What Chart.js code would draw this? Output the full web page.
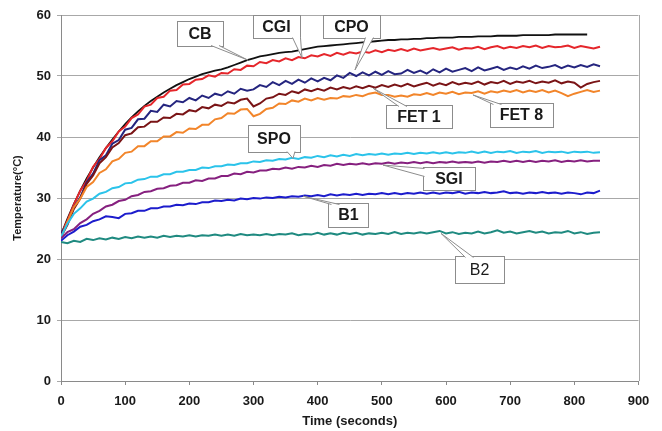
<!DOCTYPE html>
<html>
<head>
<meta charset="utf-8">
<script src="https://cdn.jsdelivr.net/npm/chart.js@4.4.1/dist/chart.umd.min.js"></script>
<style>
  html, body { margin: 0; padding: 0; background: #fff; }
  #wrap { width: 662px; height: 431px; position: relative; }
</style>
</head>
<body>
<div id="wrap"><canvas id="chart" width="662" height="431"></canvas></div>
<script>
// ---- data (time in seconds, temperature in °C) ----
const times = [0,10,20,30,40,50,60,70,80,90,100,110,120,130,140,150,160,170,180,190,200,
  210,220,230,240,250,260,270,280,290,300,310,320,330,340,350,360,370,380,390,400,
  410,420,430,440,450,460,470,480,490,500,510,520,530,540,550,560,570,580,590,600,
  610,620,630,640,650,660,670,680,690,700,710,720,730,740,750,760,770,780,790,800,
  810,820,830,840];

const cb = [24.0,26.6,29.0,31.2,33.2,35.0,36.7,38.2,39.6,40.9,42.1,43.2,44.2,45.1,45.9,46.6,47.3,47.9,48.5,49.0,49.5,
  49.9,50.3,50.6,50.9,51.1,51.4,51.8,52.2,52.6,52.9,53.2,53.4,53.6,53.8,53.9,54.0,54.2,54.4,54.6,54.8,
  54.9,55.0,55.1,55.2,55.3,55.4,55.5,55.6,55.7,55.8,55.9,55.9,56.0,56.0,56.1,56.1,56.2,56.2,56.3,56.3,
  56.3,56.4,56.4,56.4,56.5,56.5,56.5,56.6,56.6,56.6,56.6,56.7,56.7,56.7,56.7,56.7,56.8,56.8,56.8,56.8,
  56.8,56.8];

const cgi = [24.0,26.3,28.9,31.2,32.8,35.1,36.4,38.2,39.3,40.9,41.7,43.1,43.7,45.0,45.3,46.4,46.6,47.6,47.7,48.6,48.7,
  49.4,49.5,50.1,49.9,50.5,50.4,51.1,51.0,51.7,51.6,52.3,52.1,52.6,52.4,52.9,52.6,53.1,52.9,53.4,53.2,
  53.6,53.3,53.8,53.5,53.9,53.7,54.0,53.8,54.2,53.9,54.3,54.1,54.4,54.1,54.5,54.2,54.4,54.6,54.3,54.5,
  54.7,54.3,54.6,54.5,54.8,54.4,54.7,54.9,54.5,54.8,54.6,54.9,54.7,55.0,54.6,54.9,54.7,54.8,55.0,54.6,
  54.9,54.7,54.5,54.8];

const cpo = [24.2,25.8,28.5,30.1,32.6,34.0,36.2,37.0,38.9,39.5,41.2,41.5,42.9,43.0,44.3,44.1,45.3,45.0,45.9,45.7,46.4,
  46.0,46.8,46.4,47.1,46.8,47.5,47.1,47.9,47.6,47.8,48.5,48.2,49.0,48.5,49.2,48.7,49.4,48.9,49.6,49.1,
  49.7,49.3,50.1,49.7,50.5,50.0,50.6,50.1,50.7,50.2,50.8,50.3,50.4,51.0,50.5,50.9,50.4,51.1,50.6,51.2,
  50.7,51.0,51.3,50.8,51.4,50.9,51.2,51.5,51.0,51.4,51.1,51.6,51.2,51.7,51.3,51.5,51.8,51.3,51.7,51.4,
  51.8,51.5,51.9,51.6];

const fet1 = [23.6,25.6,28.2,29.9,32.3,33.7,35.7,36.7,38.3,39.0,40.3,40.6,41.6,41.7,42.5,42.5,43.2,43.1,43.8,43.7,44.4,
  44.2,44.9,44.7,45.3,45.1,45.7,45.5,46.1,46.3,45.0,45.5,46.3,46.5,47.1,46.9,47.5,47.2,47.8,47.5,47.9,
  47.6,48.1,47.8,48.2,47.9,48.3,48.0,48.4,48.1,48.5,48.2,48.6,48.3,48.7,48.3,48.6,48.9,48.4,48.8,48.5,
  49.0,48.6,48.9,48.7,49.1,48.6,49.0,48.8,49.2,48.7,49.1,48.9,49.2,48.8,49.1,48.9,49.3,48.8,49.1,48.9,
  48.1,48.7,49.0,49.2];

const fet8 = [23.5,26.1,28.5,29.9,31.8,32.6,34.1,34.7,36.0,36.4,37.4,37.6,38.5,38.5,39.3,39.3,40.1,40.1,40.8,40.7,41.4,
  41.3,42.0,42.0,42.9,43.1,43.9,43.8,44.5,44.6,43.4,43.8,44.6,44.8,45.5,45.4,46.0,45.8,46.3,46.0,46.4,
  46.1,46.4,46.3,46.7,46.6,46.9,46.7,47.1,47.3,46.9,46.9,46.6,46.8,46.6,47.0,46.9,47.2,46.9,47.3,47.1,
  47.4,47.0,47.3,47.2,47.5,47.1,47.5,47.3,47.6,47.4,47.7,47.3,47.6,47.4,47.7,47.3,47.6,47.2,46.7,47.1,
  47.4,47.7,47.4,47.6];

const spo = [23.6,25.8,27.4,28.3,29.4,29.9,30.7,31.0,31.6,31.8,32.4,32.5,33.0,33.1,33.5,33.5,33.9,33.9,34.3,34.3,34.6,
  34.6,35.0,34.9,35.2,35.2,35.5,35.4,35.7,35.7,36.0,35.9,36.2,36.1,36.4,36.3,36.6,36.4,36.7,36.6,36.9,
  36.7,37.0,36.8,37.1,36.9,37.2,37.0,37.2,37.1,37.3,37.1,37.3,37.2,37.4,37.2,37.4,37.3,37.5,37.3,37.5,
  37.3,37.5,37.4,37.6,37.4,37.6,37.4,37.6,37.5,37.7,37.4,37.6,37.5,37.7,37.4,37.6,37.5,37.6,37.4,37.6,
  37.5,37.6,37.4,37.5];

const sgi = [23.4,24.4,24.9,25.9,26.5,27.4,27.9,28.6,28.9,29.5,29.7,30.3,30.5,31.0,31.1,31.5,31.6,32.0,32.1,32.5,32.5,
  32.9,32.8,33.2,33.2,33.6,33.6,34.0,33.9,34.3,34.2,34.5,34.5,34.8,34.7,35.0,34.8,35.1,35.0,35.3,35.1,
  35.4,35.3,35.6,35.4,35.6,35.5,35.7,35.5,35.7,35.6,35.8,35.6,35.8,35.7,35.9,35.7,35.9,35.7,35.9,35.8,
  36.0,35.8,35.9,35.8,36.0,35.8,36.0,35.9,36.1,35.9,36.1,35.9,36.1,35.9,36.1,36.0,36.2,35.9,36.1,36.0,
  36.2,36.0,36.1,36.1];

const b1 = [23.0,23.9,24.5,25.3,25.6,26.2,26.5,27.0,26.9,26.7,27.4,27.5,27.9,27.9,28.3,28.3,28.6,28.6,28.9,28.8,29.1,
  29.0,29.3,29.3,29.6,29.5,29.7,29.6,29.9,29.8,30.0,29.9,30.1,30.0,30.2,30.1,30.3,30.2,30.4,30.3,30.5,
  30.3,30.6,30.4,30.6,30.5,30.7,30.5,30.7,30.6,30.8,30.6,30.8,30.6,30.8,30.7,30.9,30.7,30.9,30.7,30.9,
  30.8,31.0,30.7,30.9,30.8,31.0,30.8,30.9,31.1,30.8,30.9,30.7,30.9,30.8,31.0,30.8,30.9,30.7,30.9,30.8,
  30.6,30.9,30.8,31.2];

const b2 = [22.8,22.6,23.0,22.8,23.3,23.1,23.4,23.2,23.5,23.3,23.6,23.4,23.7,23.5,23.7,23.5,23.8,23.6,23.8,23.7,23.9,
  23.7,23.9,23.8,24.0,23.8,24.0,23.8,24.1,23.9,24.0,23.9,24.1,23.9,24.1,24.0,24.2,23.9,24.1,24.0,24.3,
  24.0,24.2,24.0,24.3,24.1,24.3,24.0,24.2,24.1,24.3,24.1,24.4,24.1,24.3,24.2,24.4,24.2,24.4,24.6,24.2,
  24.4,24.1,24.3,24.2,24.5,24.2,24.4,24.7,24.3,24.5,24.2,24.4,24.6,24.3,24.5,24.2,24.4,24.3,24.6,24.2,
  24.4,24.1,24.3,24.4];

const xTicks = [0,100,200,300,400,500,600,700,800,900];
const yTicks = [0,10,20,30,40,50,60];

// callout boxes: centre and tip in data units, box size in px, tail base on an edge
const callouts = [
  { text: 'CB',    cx: 216.6, cy: 56.9, tx: 291.4, ty: 52.6, w: 46, h: 25, edge: 'bottom', off: 15 },
  { text: 'CGI',   cx: 335.8, cy: 58.1, tx: 375.6, ty: 53.0, w: 47, h: 23, edge: 'bottom', off: 20 },
  { text: 'CPO',   cx: 452.7, cy: 58.1, tx: 458.2, ty: 51.0, w: 57, h: 23, edge: 'bottom', off: 18 },
  { text: 'FET 1', cx: 557.9, cy: 43.3, tx: 486.2, ty: 48.0, w: 66, h: 23, edge: 'top',    off: -16 },
  { text: 'FET 8', cx: 717.6, cy: 43.6, tx: 642.0, ty: 46.9, w: 63, h: 24, edge: 'top',    off: -24 },
  { text: 'SPO',   cx: 331.9, cy: 39.7, tx: 361.5, ty: 36.5, w: 52, h: 27, edge: 'bottom', off: 17 },
  { text: 'SGI',   cx: 604.6, cy: 33.2, tx: 501.8, ty: 35.4, w: 52, h: 23, edge: 'left',   off: -6 },
  { text: 'B1',    cx: 448.0, cy: 27.2, tx: 377.1, ty: 30.3, w: 40, h: 24, edge: 'top',    off: -13 },
  { text: 'B2',    cx: 652.2, cy: 18.2, tx: 592.2, ty: 24.2, w: 49, h: 27, edge: 'top',    off: -10, normal: true },
];

const FONT = '"Liberation Sans", Arial, sans-serif';

function series(label, values, color, width) {
  return {
    label,
    data: values.map((v, i) => ({ x: times[i], y: v })),
    borderColor: color,
    borderWidth: width || 2,
    pointRadius: 0,
    tension: 0,
    fill: false
  };
}

const calloutPlugin = {
  id: 'callouts',
  afterDatasetsDraw(chart) {
    const { ctx, chartArea, scales: { x, y } } = chart;
    ctx.save();
    // right edge of the plot frame
    ctx.strokeStyle = '#a8a8a8';
    ctx.lineWidth = 1;
    ctx.beginPath();
    ctx.moveTo(Math.round(chartArea.right) + 0.5, chartArea.top);
    ctx.lineTo(Math.round(chartArea.right) + 0.5, chartArea.bottom);
    ctx.stroke();

    callouts.forEach(c => {
      const cx = x.getPixelForValue(c.cx), cy = y.getPixelForValue(c.cy);
      const tx = x.getPixelForValue(c.tx), ty = y.getPixelForValue(c.ty);
      const l = Math.round(cx - c.w / 2) + 0.5, t = Math.round(cy - c.h / 2) + 0.5;
      ctx.fillStyle = '#fff';
      ctx.strokeStyle = '#8c8c8c';
      ctx.lineWidth = 1;
      ctx.fillRect(l, t, c.w, c.h);
      ctx.strokeRect(l, t, c.w, c.h);

      // tail
      let a, b;
      if (c.edge === 'bottom') { a = [cx + c.off - 4, t + c.h - 1]; b = [cx + c.off + 4, t + c.h - 1]; }
      else if (c.edge === 'top') { a = [cx + c.off - 4, t + 1]; b = [cx + c.off + 4, t + 1]; }
      else { a = [l + 1, cy + c.off - 4]; b = [l + 1, cy + c.off + 4]; }
      ctx.beginPath();
      ctx.moveTo(a[0], a[1]); ctx.lineTo(tx, ty); ctx.lineTo(b[0], b[1]); ctx.closePath();
      ctx.fill();
      ctx.beginPath();
      ctx.moveTo(a[0], a[1]); ctx.lineTo(tx, ty); ctx.lineTo(b[0], b[1]);
      ctx.stroke();

      ctx.fillStyle = '#1a1a1a';
      ctx.font = (c.normal ? '' : 'bold ') + '16px ' + FONT;
      ctx.textAlign = 'center';
      ctx.textBaseline = 'middle';
      ctx.fillText(c.text, cx, cy + 1);
    });
    ctx.restore();
  }
};

new Chart(document.getElementById('chart'), {
  type: 'line',
  data: {
    datasets: [
      series('B2', b2, '#1f8a80'),
      series('B1', b1, '#1c1ccc'),
      series('SGI', sgi, '#86207f'),
      series('SPO', spo, '#2bc3ea'),
      series('FET 8', fet8, '#f2852a'),
      series('FET 1', fet1, '#7a1416'),
      series('CPO', cpo, '#25257f'),
      series('CGI', cgi, '#e5262b'),
      series('CB', cb, '#111111', 1.8)
    ]
  },
  options: {
    responsive: false,
    animation: false,
    layout: { padding: { top: 15, right: 23.5, left: 0, bottom: 0 } },
    plugins: { legend: { display: false }, tooltip: { enabled: false } },
    scales: {
      x: {
        type: 'linear', min: 0, max: 900,
        afterFit: s => { s.height = 50; },
        afterBuildTicks: s => { s.ticks = xTicks.map(v => ({ value: v })); },
        ticks: { color: '#1a1a1a', font: { family: FONT, size: 13, weight: 'bold' }, padding: 9, maxRotation: 0 },
        grid: { drawOnChartArea: false, drawTicks: true, tickLength: 4, color: '#8a8a8a' },
        border: { color: '#8a8a8a' },
        title: { display: true, text: 'Time (seconds)', color: '#1a1a1a', font: { family: FONT, size: 13, weight: 'bold' }, padding: { top: 0, bottom: 2 } }
      },
      y: {
        min: 0, max: 60,
        afterFit: s => { s.width = 61; },
        afterBuildTicks: s => { s.ticks = yTicks.map(v => ({ value: v })); },
        ticks: { color: '#1a1a1a', font: { family: FONT, size: 13, weight: 'bold' }, padding: 6 },
        grid: { color: '#a8a8a8', tickLength: 4 },
        border: { color: '#8a8a8a' },
        title: { display: true, text: 'Temperature(°C)', color: '#1a1a1a', font: { family: FONT, size: 11, weight: 'bold' }, padding: { top: 11, bottom: 0 } }
      }
    }
  },
  plugins: [calloutPlugin]
});
</script>
</body>
</html>
